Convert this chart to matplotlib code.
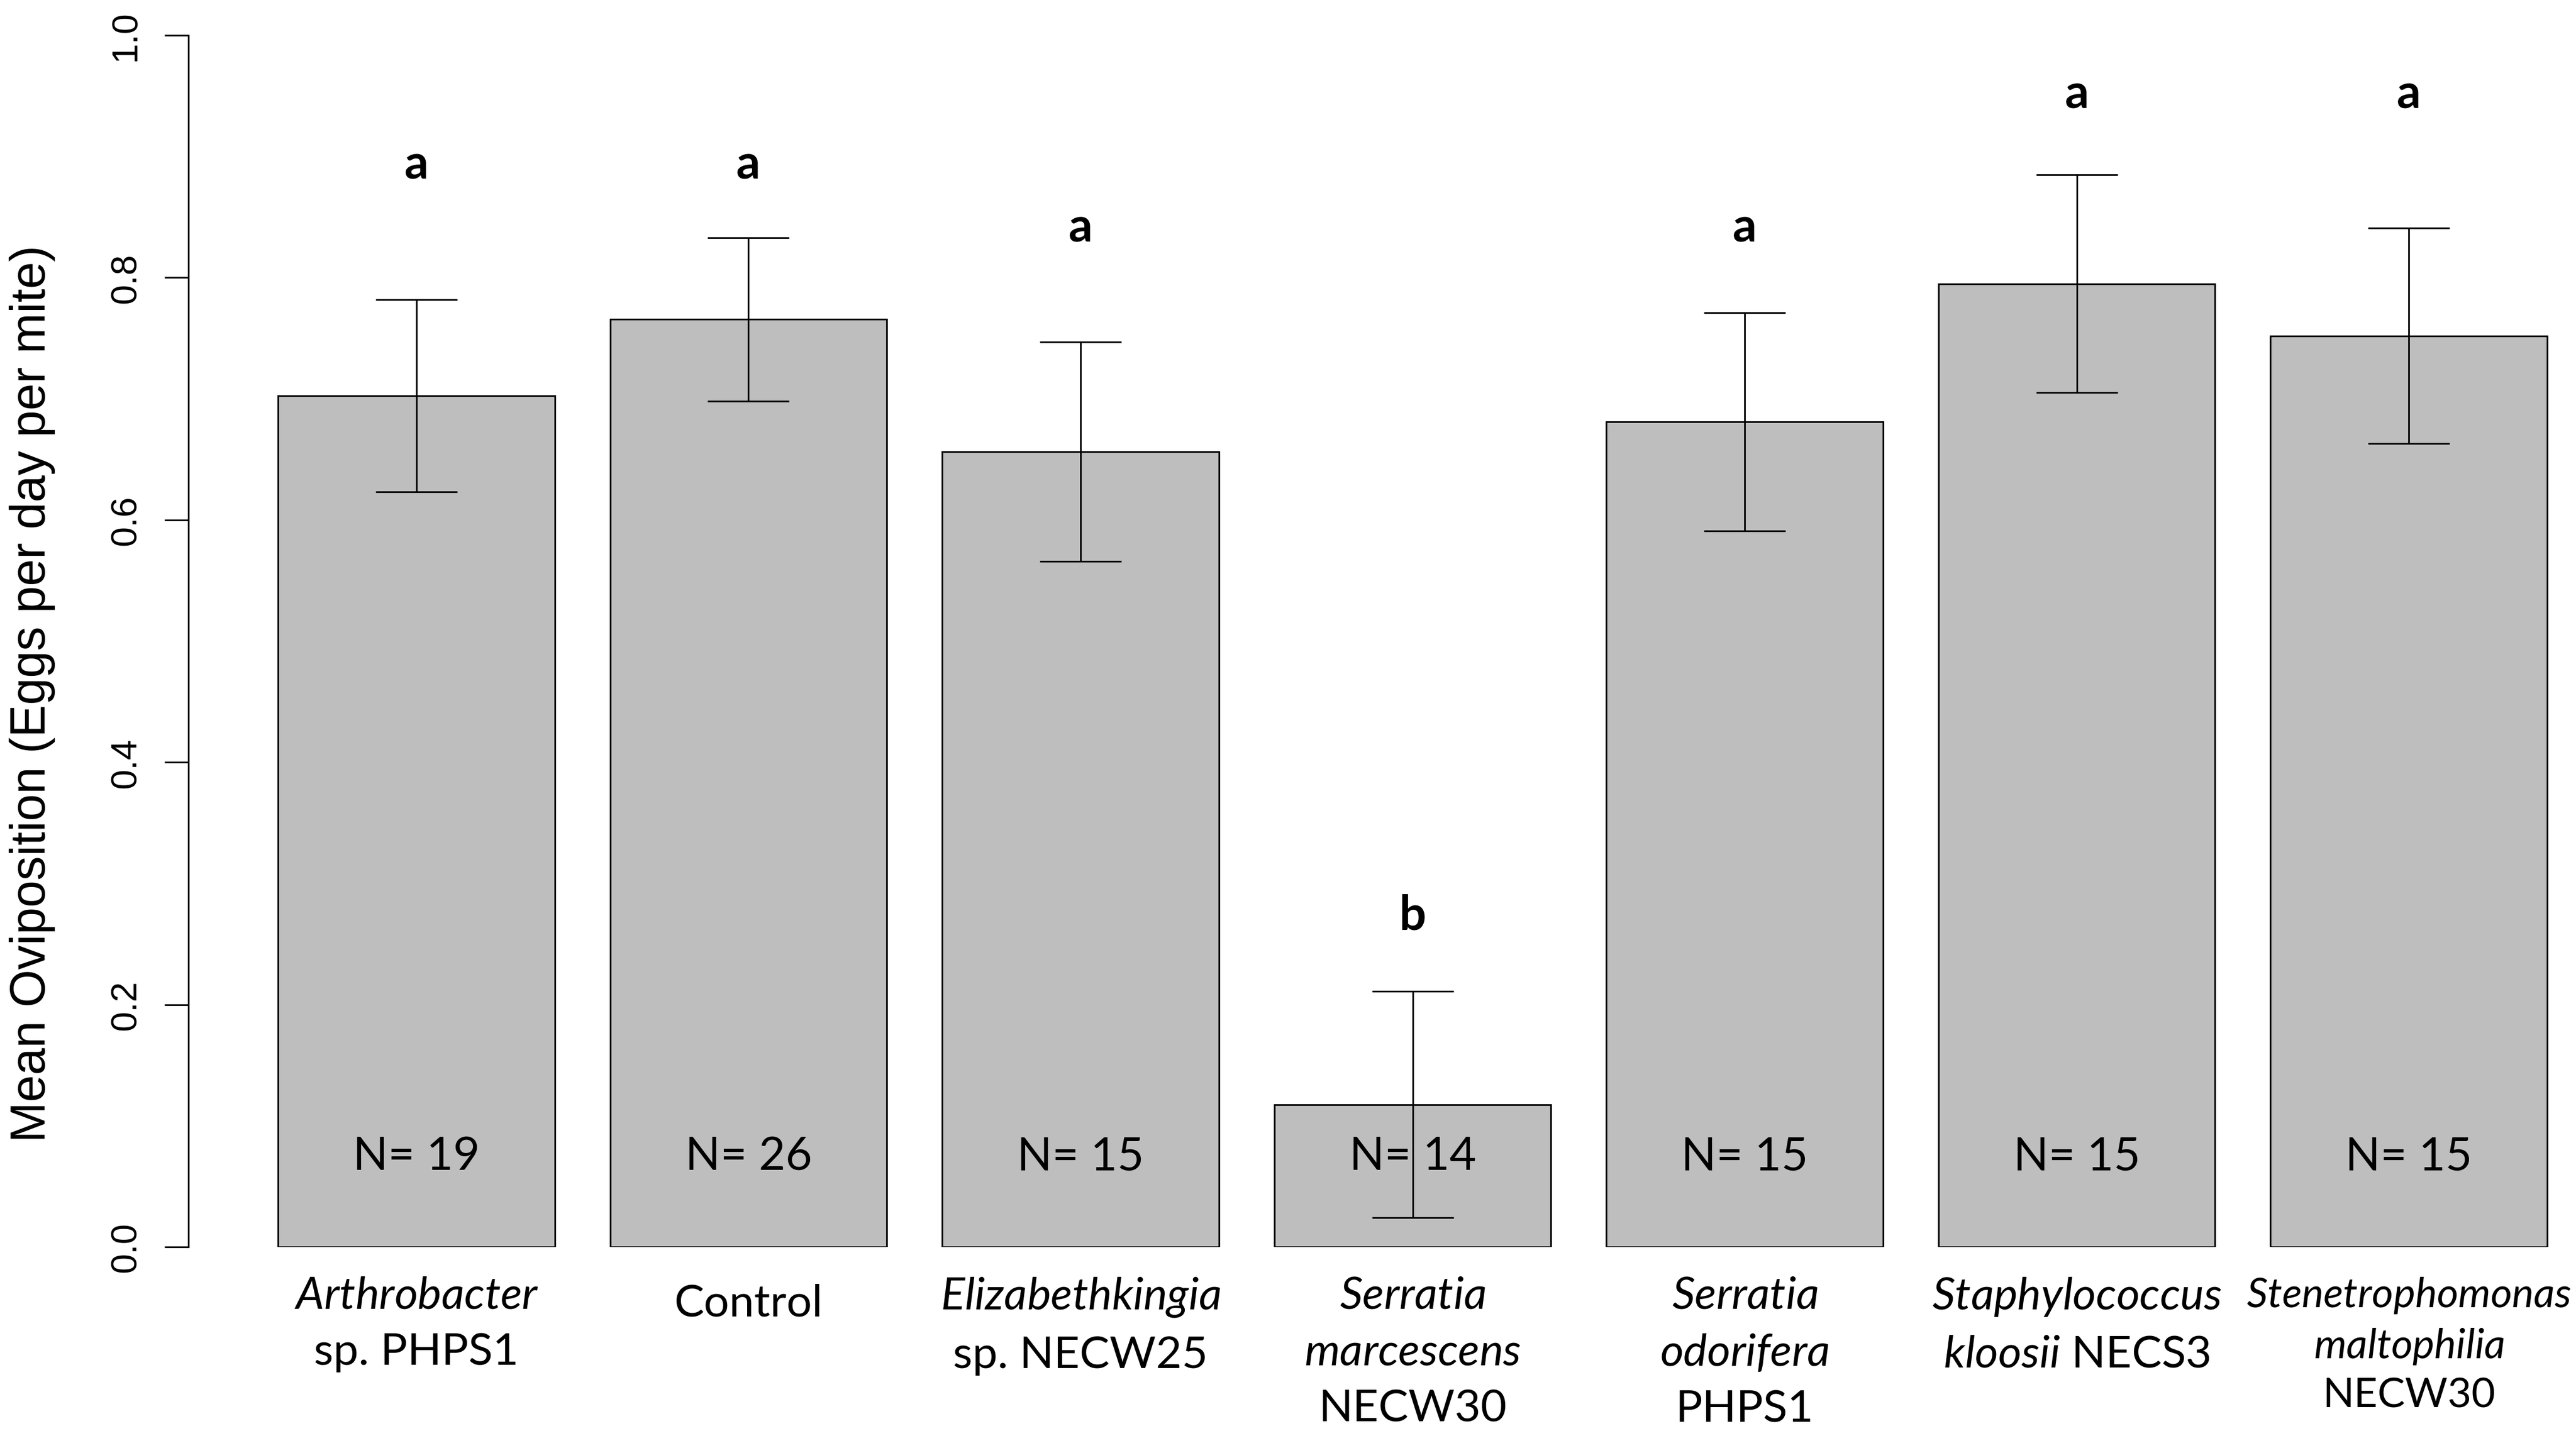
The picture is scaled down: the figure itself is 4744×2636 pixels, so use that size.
#!/usr/bin/env python3
"""
Bar chart of mean oviposition per bacterial treatment, with SE bars,
sample sizes inside bars and significance letters above.
"""

import numpy as np
import matplotlib
matplotlib.use("Agg")
import matplotlib.pyplot as plt

# ---- data ----
treatment_labels = [
    "$\\mathit{Arthrobacter}$\nsp. PHPS1",
    "Control",
    "$\\mathit{Elizabethkingia}$\nsp. NECW25",
    "$\\mathit{Serratia}$\n$\\mathit{marcescens}$\nNECW30",
    "$\\mathit{Serratia}$\n$\\mathit{odorifera}$\nPHPS1",
    "$\\mathit{Staphylococcus}$\n$\\mathit{kloosii}$ NECS3",
    "$\\mathit{Stenetrophomonas}$\n$\\mathit{maltophilia}$\nNECW30",
]
mean_ovi = [0.7025, 0.7655, 0.6565, 0.1175, 0.681, 0.795, 0.752]
se_ovi = [0.0795, 0.0675, 0.0905, 0.0935, 0.090, 0.090, 0.089]
n_mites = [19, 26, 15, 14, 15, 15, 15]
sig_letters = ["a", "a", "a", "b", "a", "a", "a"]
letter_y = [0.882, 0.882, 0.830, 0.2625, 0.830, 0.940, 0.940]
y_ticks = [0.0, 0.2, 0.4, 0.6, 0.8, 1.0]

# fonts
plt.rcParams['mathtext.fontset'] = 'custom'
plt.rcParams['mathtext.it'] = 'Lato:italic'
plt.rcParams['mathtext.rm'] = 'Lato'
plt.rcParams['mathtext.bf'] = 'Lato:bold'

W, H, DPI = 4744, 2637, 300
fig = plt.figure(figsize=(W / DPI, H / DPI), dpi=DPI)
fig.patch.set_facecolor('white')

# axes placed in pixel terms (R-style barplot layout)
ax = fig.add_axes([347 / W, 1 - 2298 / H, (W - 347) / W, (2298 - 66) / H])

# R barplot positions: width 1, space 0.2
centers = 0.7 + 1.2 * np.arange(len(mean_ovi))

ax.bar(centers, mean_ovi, width=1.0, color='#BEBEBE',
       edgecolor='black', linewidth=0.75, zorder=2)
ax.errorbar(centers, mean_ovi, yerr=se_ovi, fmt='none', ecolor='black',
            elinewidth=0.75, capsize=18, capthick=0.75, zorder=3)

ax.set_xlim(-0.124, 8.504)
ax.set_ylim(0, 1)

for side in ['top', 'right', 'bottom']:
    ax.spines[side].set_visible(False)
ax.spines['left'].set_linewidth(0.75)

ax.set_xticks([])
ax.set_yticks(y_ticks)
ax.set_yticklabels([f"{t:.1f}" for t in y_ticks], rotation=90, va='center',
                   fontsize=16, family='Liberation Sans')
ax.tick_params(axis='y', length=10.5, width=0.75, pad=9.5)

ax.set_ylabel("Mean Oviposition (Eggs per day per mite)", fontsize=21.5,
              family='Liberation Sans', va='center')
ax.yaxis.set_label_coords(-0.0653, 0.457)

# sample sizes inside bars
for c, n in zip(centers, n_mites):
    ax.text(c, 0.064, f"N= {n}", ha='center', va='baseline',
            fontsize=20.3, family='Lato', zorder=4)

# significance letters
for c, let, ly in zip(centers, sig_letters, letter_y):
    ax.text(c, ly, let, ha='center', va='baseline', fontsize=21,
            family='Lato', fontweight='bold')

# treatment names under the bars (last one is squeezed smaller in the original)
for i, (c, lab) in enumerate(zip(centers, treatment_labels)):
    last = i == len(treatment_labels) - 1
    fs = 18.2 if last else 19.8
    ls = 1.35 if last else 1.5
    ytop = -0.0235 if "\n" in lab else -0.030
    ax.text(c, ytop, lab, ha='center', va='top', fontsize=fs,
            family='Lato', linespacing=ls, clip_on=False)

fig.savefig("out.png", dpi=DPI, facecolor='white')
